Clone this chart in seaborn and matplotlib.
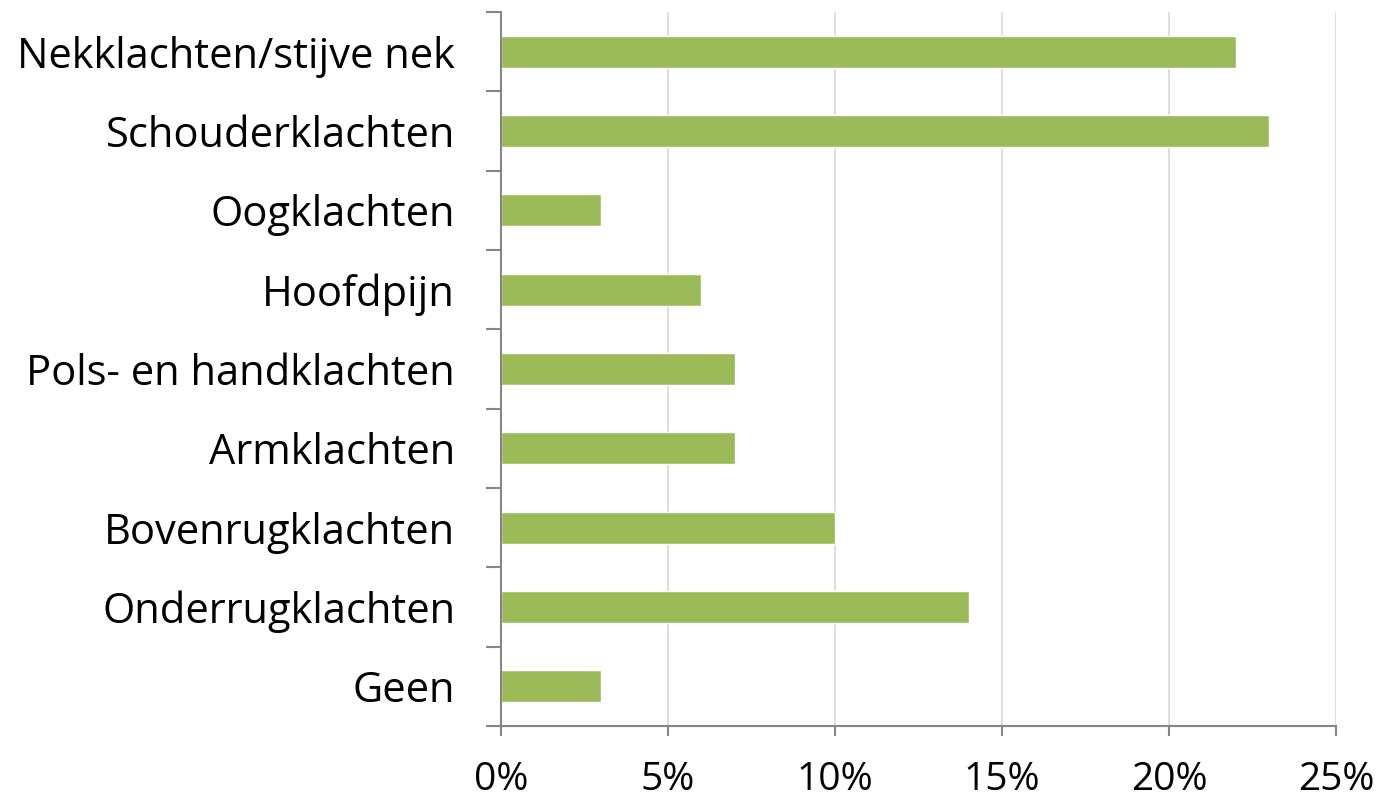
import matplotlib
matplotlib.use("Agg")
import matplotlib.pyplot as plt
import seaborn as sns
import pandas as pd
import numpy as np
from matplotlib.ticker import FuncFormatter, FixedLocator

categories = ["Nekklachten/stijve nek", "Schouderklachten", "Oogklachten", "Hoofdpijn",
              "Pols- en handklachten", "Armklachten", "Bovenrugklachten",
              "Onderrugklachten", "Geen"]
values = [22, 23, 3, 6, 7, 7, 10, 14, 3]
x_ticks = [0, 5, 10, 15, 20, 25]

df = pd.DataFrame({"klacht": categories, "pct": values})

sns.set_style("white")
plt.rcParams["font.family"] = ["Open Sans", "DejaVu Sans"]

fig = plt.figure(figsize=(13.86, 8), dpi=100)
ax = fig.add_axes([0.3615, 0.0925, 0.964 - 0.3615, 0.985 - 0.0925])

sns.barplot(data=df, y="klacht", x="pct", orient="h", color="#9BBB59",
            saturation=1, width=0.4, ax=ax)

ax.set_xlim(0, 25)
ax.set_ylim(len(categories) - 0.5, -0.5)
ax.set_xticks(x_ticks)
ax.xaxis.set_major_formatter(FuncFormatter(lambda v, p: f"{v:.0f}%"))
ax.grid(axis="x", color="#D9D9D9", linewidth=1.2)
ax.set_axisbelow(True)

ax.set_xlabel("")
ax.set_ylabel("")
for s in ["top", "right"]:
    ax.spines[s].set_visible(False)
for s in ["left", "bottom"]:
    ax.spines[s].set_color("#868686")
    ax.spines[s].set_linewidth(1.5)

ax.yaxis.set_minor_locator(FixedLocator(np.arange(-0.5, len(categories), 1.0)))
ax.tick_params(axis="y", which="major", length=0, pad=33, labelsize=30, labelcolor="black")
ax.tick_params(axis="y", which="minor", left=True, length=11, width=1.5, color="#868686")
ax.tick_params(axis="x", which="major", bottom=True, length=7, width=1.5, color="#868686",
               pad=18, labelsize=28, labelcolor="black")

fig.savefig("out.png", dpi=100)
